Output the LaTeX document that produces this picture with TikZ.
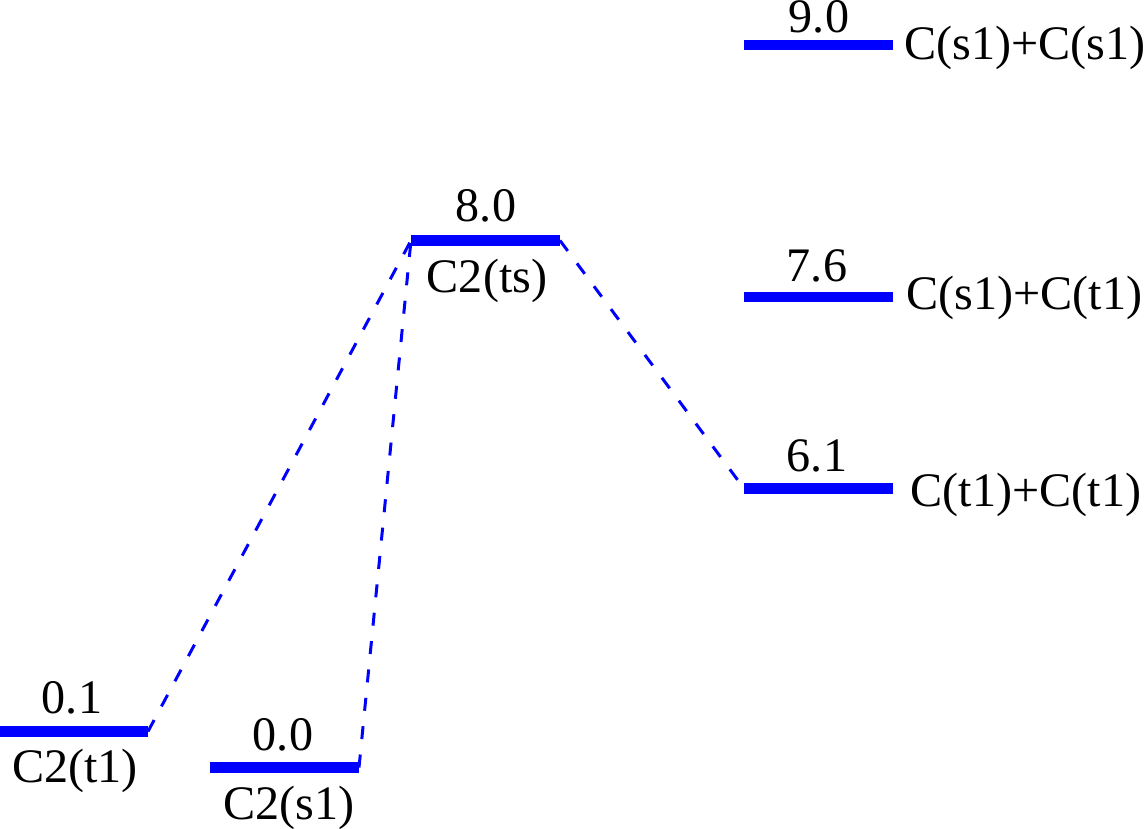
\documentclass[tikz,border=0pt]{standalone}
\usepackage{fontspec}
\setmainfont{Liberation Serif}
\usepackage{tikz}

\tikzset{
  level/.style={draw=blue, line width=3pt},
  conn/.style={draw=blue, line width=0.85pt, dash pattern=on 0.13cm off 0.155cm},
  lbl/.style={inner sep=0pt, font=\fontsize{13.7}{16}\selectfont}
}

\begin{document}
\begin{tikzpicture}

\useasboundingbox (0,0) rectangle (11.48,8.29);

% level ends
\coordinate (t1l) at (0,0.975);    \coordinate (t1r) at (1.48,0.975);
\coordinate (s1l) at (2.10,0.615);  \coordinate (s1r) at (3.59,0.615);
\coordinate (tsl) at (4.11,5.885);  \coordinate (tsr) at (5.60,5.885);
\coordinate (ssl) at (7.44,7.84);   \coordinate (ssr) at (8.93,7.84);
\coordinate (stl) at (7.44,5.32);   \coordinate (str) at (8.93,5.32);
\coordinate (ttl) at (7.44,3.405);  \coordinate (ttr) at (8.93,3.405);

% the levels
\draw [level] (t1l) -- (t1r);
\draw [level] (s1l) -- (s1r);
\draw [level] (tsl) -- (tsr);
\draw [level] (ssl) -- (ssr);
\draw [level] (stl) -- (str);
\draw [level] (ttl) -- (ttr);

% dashed paths through the transition state
\draw [conn] (t1r) -- (tsl);
\draw [conn] (s1r) -- (tsl);
\draw [conn] (tsr) -- (ttl);

% energies
\node [lbl, anchor=base] (e01) at (0.72,1.15) {0.1};
\node [lbl, anchor=base] (e00) at (2.83,0.78) {0.0};
\node [lbl, anchor=base] (e80) at (4.86,6.07) {8.0};
\node [lbl, anchor=base] (e90) at (8.19,7.96) {9.0};
\node [lbl, anchor=base] (e76) at (8.17,5.47) {7.6};
\node [lbl, anchor=base] (e61) at (8.17,3.57) {6.1};

% names
\node [lbl, anchor=base] (nt1) at (0.75,0.46) {C2(t1)};
\node [lbl, anchor=base] (ns1) at (2.89,0.09) {C2(s1)};
\node [lbl, anchor=base] (nts) at (4.87,5.36) {C2(ts)};
\node [lbl, anchor=base west] (nss) at (9.04,7.69) {C(s1)+C(s1)};
\node [lbl, anchor=base west] (nst) at (9.06,5.19) {C(s1)+C(t1)};
\node [lbl, anchor=base west] (ntt) at (9.10,3.22) {C(t1)+C(t1)};

\end{tikzpicture}
\end{document}
